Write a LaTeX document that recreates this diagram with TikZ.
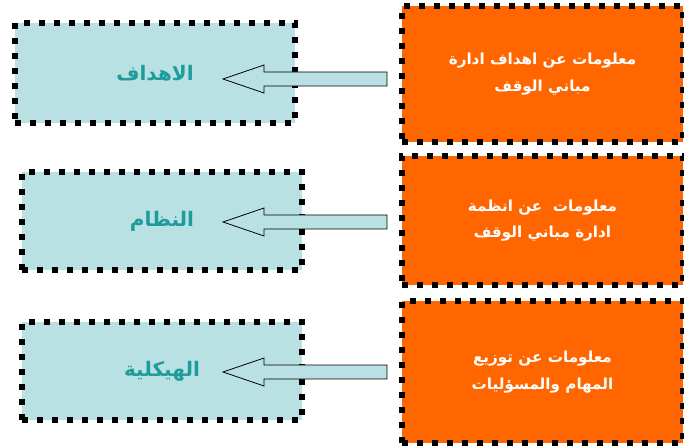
\documentclass[tikz,border=0pt]{standalone}
\usepackage{fontspec}
\newfontfamily\arabicfont[Script=Arabic]{DejaVu Sans}
\TeXXeTstate=1
\usetikzlibrary{calc}
\definecolor{boxblue}{HTML}{B9E0E3}
\definecolor{boxorange}{HTML}{FF6600}
\definecolor{tealtext}{HTML}{1E9C9C}
\tikzset{
  dotborder/.style={draw=black, line width=4.5pt, dash pattern=on 4.5pt off 6.75pt, line cap=butt},
  bluebox/.style={dotborder, fill=boxblue, minimum width=210pt, inner sep=0pt, text=tealtext, font=\arabicfont\bfseries\fontsize{15}{18}\selectfont},
  orangebox/.style={dotborder, fill=boxorange, minimum width=210.75pt, inner sep=0pt, text=white, align=center, font=\arabicfont\bfseries\fontsize{11.4}{20}\selectfont},
  blockarrow/.style={draw=black, line width=0.6pt, fill=boxblue, line join=miter}
}
\newcommand\blockarr[2]{%
  \draw[blockarrow] ($(#1)+(0,-7)$) -- ($(#2)+(41,-7)$) -- ($(#2)+(41,-14)$) -- (#2)
    -- ($(#2)+(41,14)$) -- ($(#2)+(41,7)$) -- ($(#1)+(0,7)$) -- cycle;}
\begin{document}
\begin{tikzpicture}[x=0.75pt, y=-0.75pt]
\useasboundingbox (0,0) rectangle (684,448);
% blue boxes
\node[bluebox, minimum height=75pt] (b1) at (155,73) {\beginR الاهداف\endR};
\node[bluebox, minimum height=73.5pt] (b2) at (162,221) {\beginR النظام\endR};
\node[bluebox, minimum height=73.5pt] (b3) at (162,371) {\beginR الهيكلية\endR};
% arrows
\coordinate (s1) at (387,79); \coordinate (t1) at (223,79);
\coordinate (s2) at (387,222); \coordinate (t2) at (223,222);
\coordinate (s3) at (387,372); \coordinate (t3) at (223,372);
\blockarr{s1}{t1}
\blockarr{s2}{t2}
\blockarr{s3}{t3}
% orange boxes
\node[orangebox, minimum height=102pt] (o1) at (542.5,74) {\beginR معلومات عن اهداف ادارة\endR\\ \beginR مباني الوقف\endR};
\node[orangebox, minimum height=96.75pt] (o2) at (542.5,220.5) {\beginR معلومات~~عن انظمة\endR\\ \beginR ادارة مباني الوقف\endR};
\node[orangebox, minimum height=106.5pt] (o3) at (542.5,372) {\beginR معلومات عن توزيع\endR\\ \beginR المهام والمسؤليات\endR};
\end{tikzpicture}
\end{document}
